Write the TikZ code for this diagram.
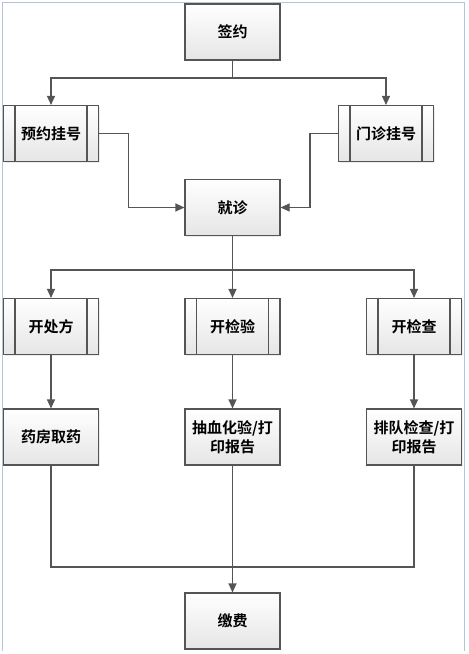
\documentclass[tikz,border=0pt]{standalone}
\usepackage{fontspec}
\newfontfamily\cjkfont{Noto Sans CJK SC}[BoldFont={* Bold}]
\usetikzlibrary{arrows.meta,shadows}
\definecolor{lineclr}{HTML}{555555}
\definecolor{frameclr}{HTML}{B4C4DA}
\begin{document}
\begin{tikzpicture}[x=1pt,y=-1pt,
  box/.style={draw=lineclr,line width=1.1pt,minimum width=95pt,minimum height=56pt,
    top color=white,bottom color=black!10,inner sep=2pt,align=center,
    font=\cjkfont\bfseries\fontsize{15}{19}\selectfont,
    drop shadow={shadow xshift=1pt,shadow yshift=-1pt,opacity=0.15}},
  subbox/.style={box,
    path picture={
      \draw[lineclr,line width=1.1pt]
      ([xshift=11.5pt]path picture bounding box.north west) -- ([xshift=11.5pt]path picture bounding box.south west)
      ([xshift=-11.5pt]path picture bounding box.north east) -- ([xshift=-11.5pt]path picture bounding box.south east);
    }},
  conn/.style={draw=lineclr,line width=1.1pt},
  arr/.style={conn,-{Triangle[width=8pt,length=9pt]}}
]
\useasboundingbox (0,0) rectangle (469,654);
\draw[frameclr,line width=1.6pt] (2.5,651) -- (2.5,2.5) -- (464.5,2.5) -- (464.5,651);

\node[box] (qy) at (232.5,32) {签约};
\node[subbox] (yy) at (51,133.5) {预约挂号};
\node[subbox] (mz) at (386,133.5) {门诊挂号};
\node[box] (jz) at (232.5,207.5) {就诊};
\node[subbox] (kcf) at (51,326.5) {开处方};
\node[subbox] (kjy) at (232.5,326.5) {开检验};
\node[subbox] (kjc) at (414,326.5) {开检查};
\node[box] (yf) at (51,437) {药房取药};
\node[box] (cx) at (232.5,437) {抽血化验/打\\印报告};
\node[box] (pd) at (414,437) {排队检查/打\\印报告};
\node[box] (jf) at (232.5,621) {缴费};

\coordinate (j1) at (232.5,78);
\coordinate (j2) at (232.5,270);
\coordinate (j3) at (232.5,567);

\draw[conn] (qy.south) -- (j1);
\draw[arr] (j1) -| (yy.north);
\draw[arr] (j1) -| (mz.north);
\draw[arr] (yy.east) -- ++(29,0) |- (jz.west);
\draw[arr] (mz.west) -- ++(-28,0) |- (jz.east);
\draw[conn] (jz.south) -- (j2);
\draw[arr] (j2) -| (kcf.north);
\draw[arr] (j2) -- (kjy.north);
\draw[arr] (j2) -| (kjc.north);
\draw[arr] (kcf.south) -- (yf.north);
\draw[arr] (kjy.south) -- (cx.north);
\draw[arr] (kjc.south) -- (pd.north);
\draw[conn] (yf.south) |- (j3);
\draw[conn] (pd.south) |- (j3);
\draw[arr] (cx.south) -- (jf.north);
\end{tikzpicture}
\end{document}
